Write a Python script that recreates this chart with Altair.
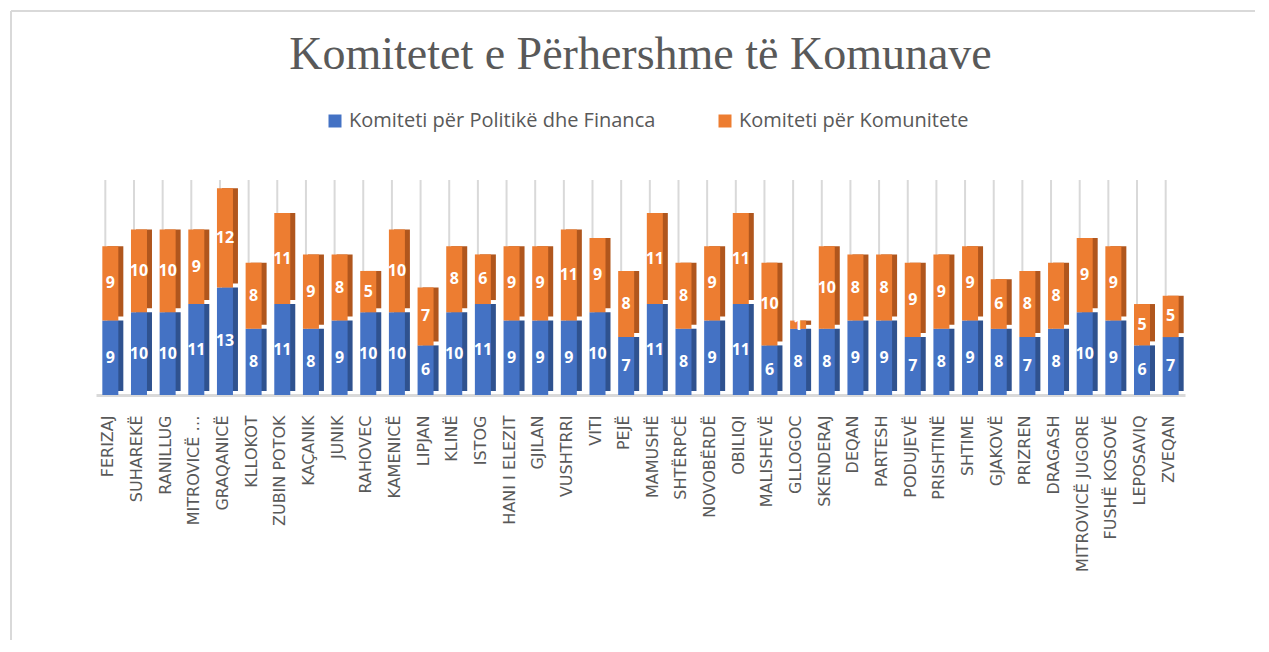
import altair as alt
import pandas as pd

municipalities = [
    "FERIZAJ", "SUHAREKË", "RANILLUG", "MITROVICË …", "GRAQANICË", "KLLOKOT",
    "ZUBIN POTOK", "KAÇANIK", "JUNIK", "RAHOVEC", "KAMENICË", "LIPJAN", "KLINË",
    "ISTOG", "HANI I ELEZIT", "GJILAN", "VUSHTRRI", "VITI", "PEJË", "MAMUSHË",
    "SHTËRPCË", "NOVOBËRDË", "OBILIQI", "MALISHEVË", "GLLOGOC", "SKENDERAJ",
    "DEQAN", "PARTESH", "PODUJEVË", "PRISHTINË", "SHTIME", "GJAKOVË", "PRIZREN",
    "DRAGASH", "MITROVICË JUGORE", "FUSHË KOSOVË", "LEPOSAVIQ", "ZVEQAN",
]
politike_financa = [9, 10, 10, 11, 13, 8, 11, 8, 9, 10, 10, 6, 10, 11, 9, 9, 9, 10, 7, 11,
                    8, 9, 11, 6, 8, 8, 9, 9, 7, 8, 9, 8, 7, 8, 10, 9, 6, 7]
komunitete = [9, 10, 10, 9, 12, 8, 11, 9, 8, 5, 10, 7, 8, 6, 9, 9, 11, 9, 8, 11,
              8, 9, 11, 10, 1, 10, 8, 8, 9, 9, 9, 6, 8, 8, 9, 9, 5, 5]
series_names = ["Komiteti për Politikë dhe Financa", "Komiteti për Komunitete"]
front_colors = ["#4472C4", "#ED7D31"]
side_colors = ["#2F528F", "#B0561D"]

rows = []
for i, m in enumerate(municipalities):
    rows.append({"cat": m, "series": series_names[0], "ord": 0, "value": politike_financa[i]})
    rows.append({"cat": m, "series": series_names[1], "ord": 1, "value": komunitete[i]})
df = pd.DataFrame(rows)

W, H = 1089, 215
BAR = 16

base = alt.Chart(df).transform_stack(
    stack="value", groupby=["cat"], sort=[alt.SortField("ord")], as_=["y0", "y1"]
).transform_calculate(
    mid="(datum.y0 + datum.y1) / 2",
    side=f"datum.ord == 0 ? '{side_colors[0]}' : '{side_colors[1]}'",
)

xenc = alt.X(
    "cat:N",
    sort=municipalities,
    scale=alt.Scale(paddingInner=0.4, paddingOuter=0.2),
    axis=alt.Axis(
        title=None, labelAngle=-90, labelFont="DejaVu Sans", labelFontSize=16,
        labelColor="#595959", labelPadding=20, labelLimit=300, ticks=False,
        domainColor="#d9d9d9", domainWidth=3, labelOffset=-2, grid=False,
    ),
)
yscale = alt.Scale(domain=[0, 26])

grid = alt.Chart(pd.DataFrame({"cat": municipalities})).mark_rule(
    color="#d9d9d9", strokeWidth=2, xOffset=-5
).encode(x=alt.X("cat:N", sort=municipalities), y=alt.value(0), y2=alt.value(H))

side = base.mark_bar(size=BAR, xOffset=5, yOffset=-4).encode(
    x=xenc,
    y=alt.Y("y0:Q", scale=yscale, axis=None),
    y2="y1:Q",
    fill=alt.Fill("side:N", scale=None),
)

front = base.mark_bar(size=BAR).encode(
    x=xenc,
    y=alt.Y("y0:Q", scale=yscale, axis=None),
    y2="y1:Q",
    color=alt.Color(
        "series:N",
        sort=series_names,
        scale=alt.Scale(domain=series_names, range=front_colors),
        legend=alt.Legend(
            title=None, orient="none", legendX=229, legendY=-69, direction="horizontal",
            symbolType="square", symbolSize=169, symbolStrokeWidth=0,
            labelFont="Open Sans", labelFontSize=20, labelColor="#595959",
            columnPadding=59, labelOffset=4, labelLimit=500,
        ),
    ),
)

labels = base.mark_text(
    color="white", font="Open Sans", fontWeight="bold", fontSize=16, baseline="middle"
).encode(
    x=xenc,
    y=alt.Y("mid:Q", scale=yscale, axis=None),
    text="value:Q",
)

frame_data = alt.Data(values=[{"k": 1}])
frame_top = alt.Chart(frame_data).mark_rule(color="#d9d9d9", strokeWidth=2).encode(
    x=alt.value(-85), x2=alt.value(W + 80), y=alt.value(-169)
)
frame_left = alt.Chart(frame_data).mark_rule(color="#d9d9d9", strokeWidth=2).encode(
    x=alt.value(-85), y=alt.value(-169), y2=alt.value(H + 260)
)

chart = alt.layer(frame_top, frame_left, grid, side, front, labels).properties(
    width=W,
    height=H,
    autosize=alt.AutoSizeParams(type="none"),
    padding={"left": 88, "top": 172, "right": 70, "bottom": 245},
    title=alt.TitleParams(
        "Komitetet e Përhershme të Komunave", font="Liberation Serif", fontSize=46,
        fontWeight="normal", color="#595959", anchor="middle", frame="group",
        offset=0, dy=69,
    ),
).configure_view(stroke=None)

chart.save("out.html", embed_options={"renderer": "svg", "actions": False})
